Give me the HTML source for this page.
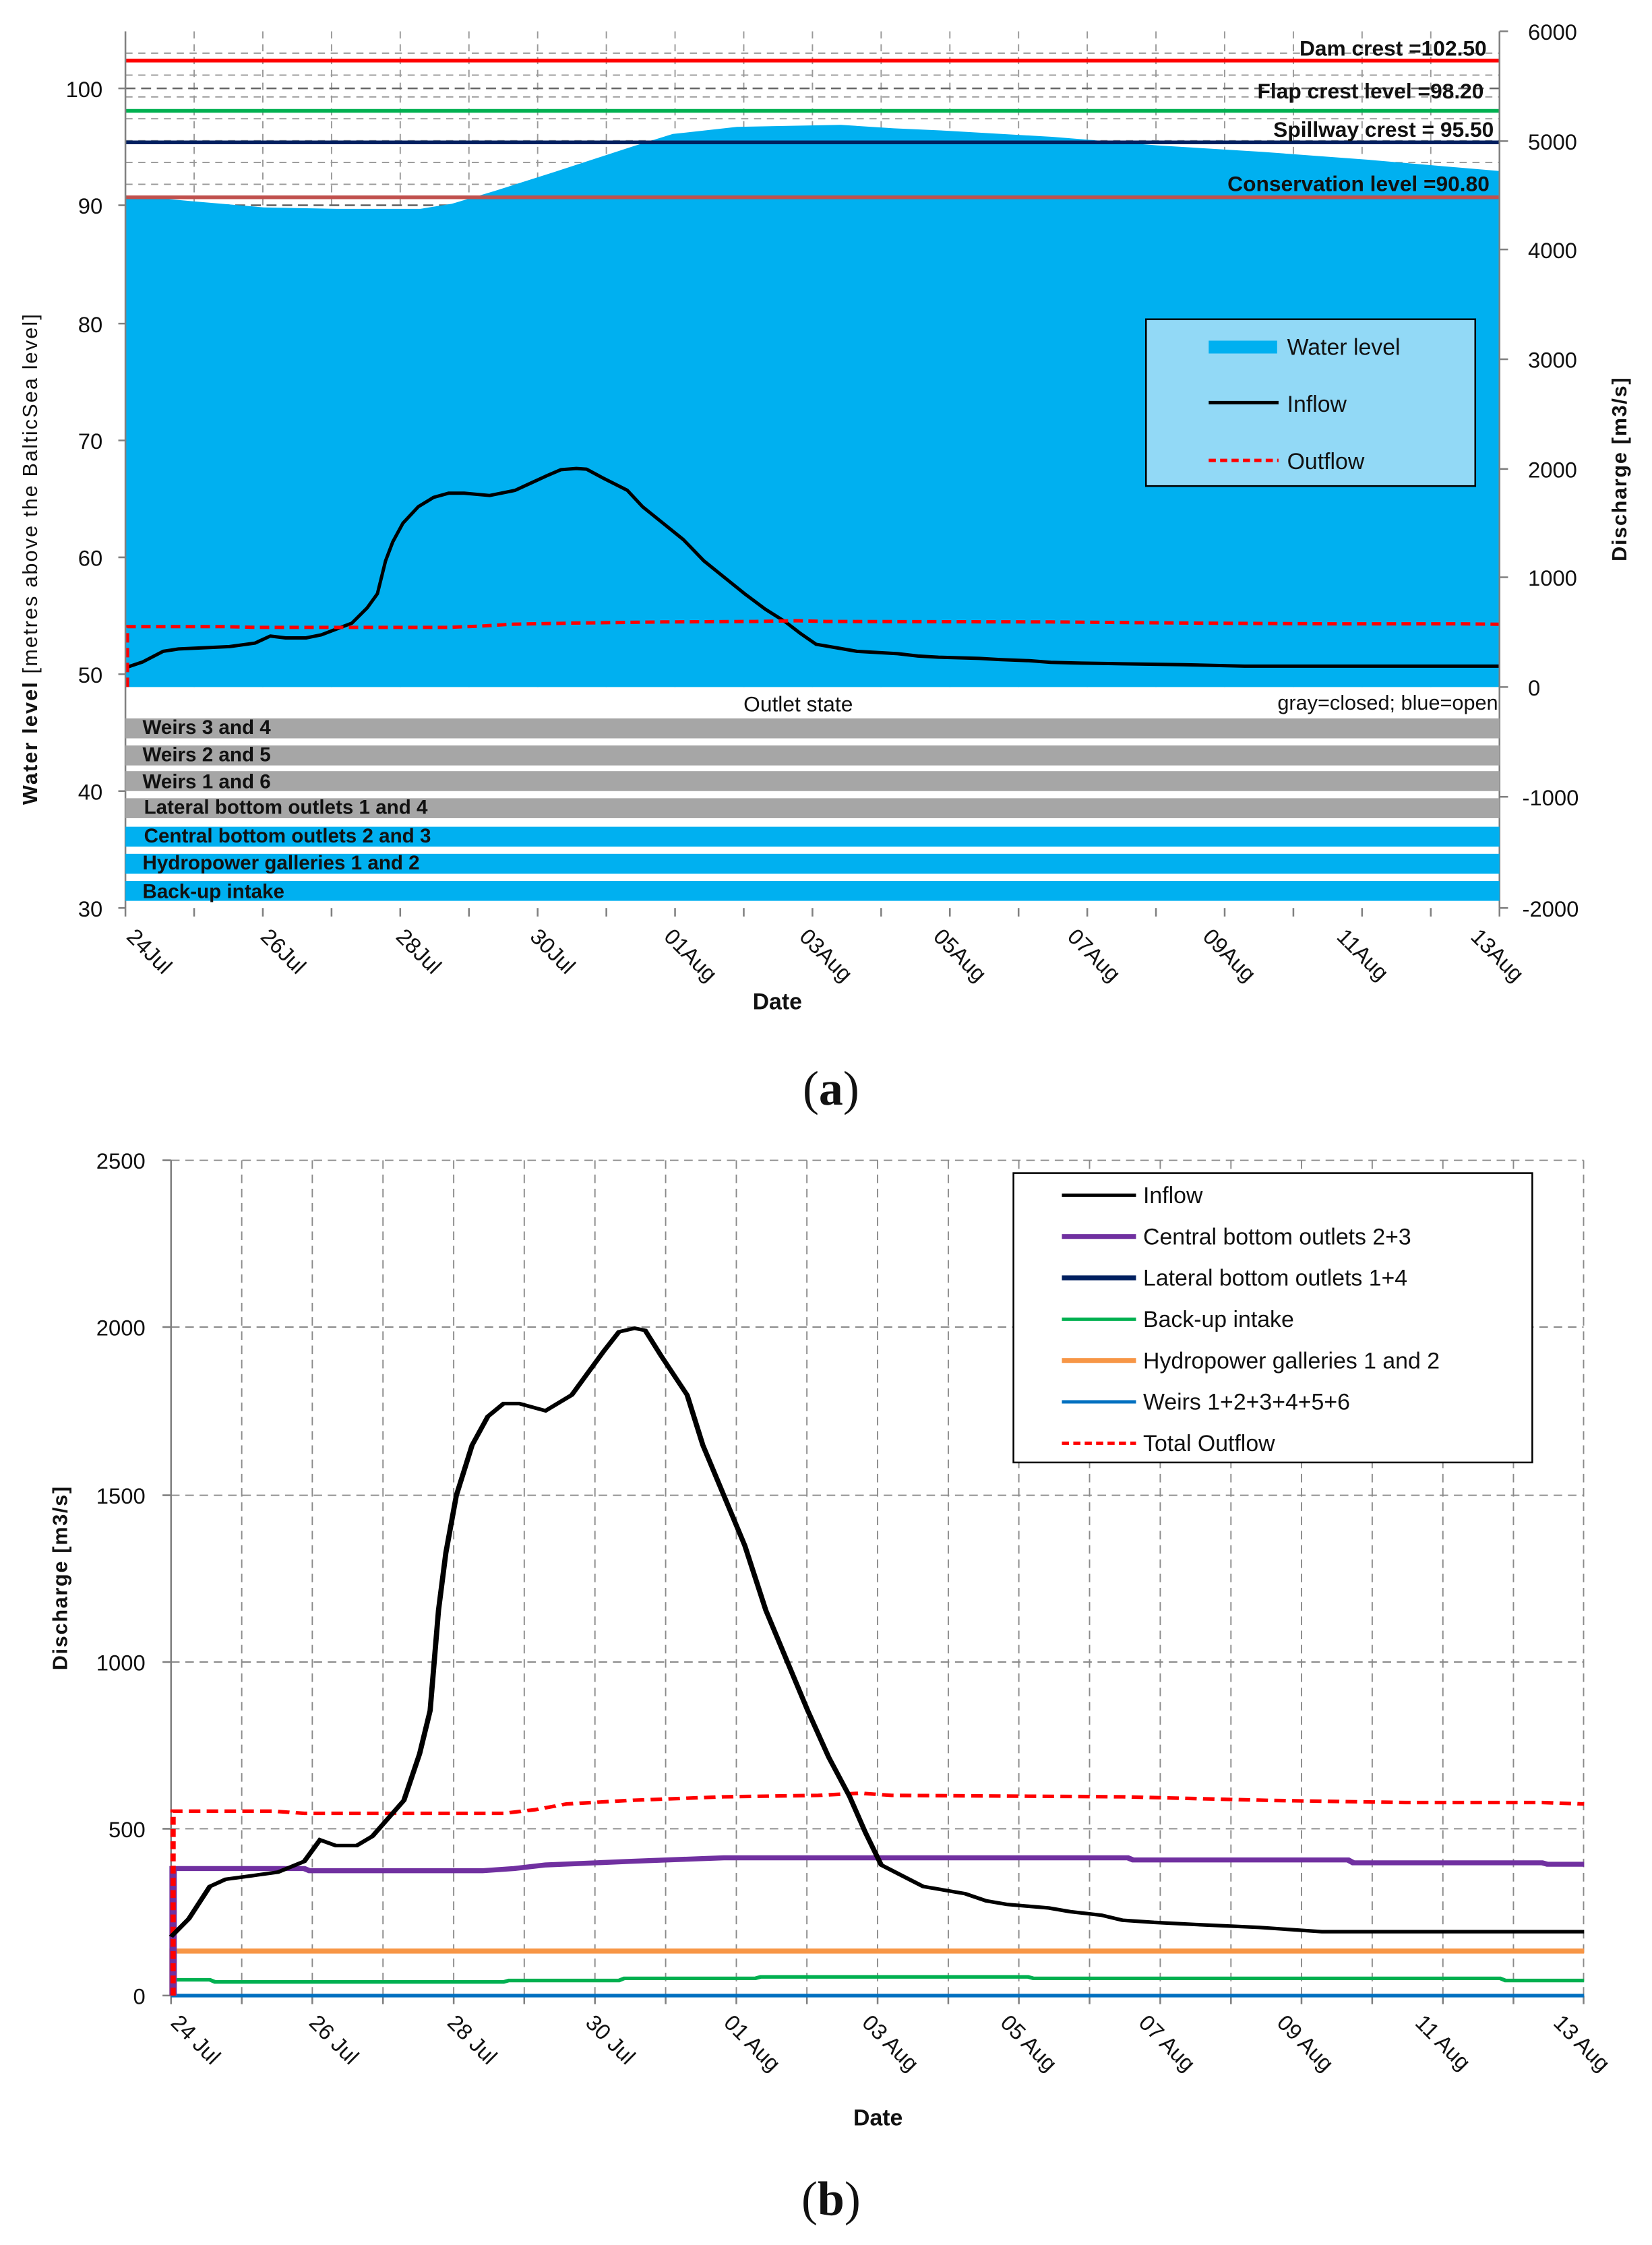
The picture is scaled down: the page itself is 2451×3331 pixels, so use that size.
<!DOCTYPE html>
<html><head><meta charset="utf-8"><style>
html,body{margin:0;padding:0;background:#fff}
svg{display:block}
text{font-family:"Liberation Sans Narrow","Liberation Sans",sans-serif;fill:#111}
.t{font-size:15.5px}
.b{font-weight:bold}
</style></head><body>
<svg width="2451" height="3331" viewBox="0 0 1159 1575" preserveAspectRatio="none" xmlns="http://www.w3.org/2000/svg">
<rect width="1159" height="1575" fill="#fff"/>
<!-- ===== CHART A ===== -->
<g stroke="#999" stroke-width="0.9" stroke-dasharray="5,4" fill="none">
<path d="M88,37.3H1052M88,52.7H1052M88,68H1052M88,83.3H1052M88,98.7H1052M88,114H1052M88,129.3H1052"/>
<path d="M136.2,22V482M184.4,22V482M232.6,22V482M280.8,22V482M329,22V482M377.2,22V482M425.4,22V482M473.6,22V482M521.8,22V482M570,22V482M618.2,22V482M666.4,22V482M714.6,22V482M762.8,22V482M811,22V482M859.2,22V482M907.4,22V482M955.6,22V482M1003.8,22V482"/>
</g>
<path d="M88,62H1052M88,144H1052" stroke="#666" stroke-width="1.2" stroke-dasharray="7,4"/>
<polygon fill="#00b0f0" points="88,482 88,137 133,141 185,145.5 236,146.5 295,146.5 317,143 347,134 391,120 443,103 472,94 517,89 590,87.6 627,90 664,91.7 738,96 812,102 885,106.5 959,112 1052,120 1052,482"/>
<g stroke-width="2.6">
<line x1="88" y1="42.5" x2="1052" y2="42.5" stroke="#ff0000"/>
<line x1="88" y1="77.8" x2="1052" y2="77.8" stroke="#00b050"/>
<line x1="88" y1="99.9" x2="1052" y2="99.9" stroke="#002060"/>
<line x1="88" y1="138.4" x2="1052" y2="138.4" stroke="#c0504d"/>
</g>
<g class="b" font-size="15" text-anchor="end">
<text x="1043" y="39">Dam crest =102.50</text>
<text x="1041" y="69">Flap crest level =98.20</text>
<text x="1048" y="96">Spillway crest = 95.50</text>
<text x="1045" y="134">Conservation level =90.80</text>
</g>
<!-- inflow/outflow a -->
<g transform="matrix(0.7157,0,0,0.16488,-28.66,278.04)" fill="none">
<polyline vector-effect="non-scaling-stroke" stroke="#000" stroke-width="5" stroke-linejoin="round" points="163,1155 180,1130 200,1085 215,1075 240,1070 265,1065 290,1050 305,1020 320,1028 340,1028 355,1015 370,990 385,965 400,900 410,840 418,700 425,620 435,540 450,470 465,430 480,412 495,412 520,422 545,400 560,370 575,340 590,312 605,307 615,310 630,345 655,400 670,470 690,540 710,610 730,700 750,770 770,840 790,905 810,960 825,1010 840,1055 860,1070 880,1085 900,1090 920,1095 940,1105 960,1110 1000,1115 1020,1120 1050,1125 1070,1132 1100,1135 1140,1138 1200,1142 1260,1148 1510,1148"/>
<polyline vector-effect="non-scaling-stroke" stroke="#ff0000" stroke-width="5" stroke-dasharray="14,8" points="165,1237 165,980 260,980 290,983 480,983 510,978 540,970 600,965 690,960 780,958 820,955 850,958 1070,960 1210,965 1340,968 1470,968 1510,970"/>
</g>
<!-- axes a -->
<g stroke="#808080" stroke-width="1.2" fill="none">
<path d="M88,22V637"/>
<path d="M1052,22V482M1052,482V637"/>
<path d="M83,62H88M83,144H88M83,227H88M83,309H88M83,391H88M83,473H88M83,555H88M83,637H88"/>
<path d="M1052,22H1058M1052,99H1058M1052,175H1058M1052,252H1058M1052,329H1058M1052,405H1058M1052,482H1058M1052,559H1058M1052,637H1058"/>
<path d="M88,637V643M136.2,637V643M184.4,637V643M232.6,637V643M280.8,637V643M329,637V643M377.2,637V643M425.4,637V643M473.6,637V643M521.8,637V643M570,637V643M618.2,637V643M666.4,637V643M714.6,637V643M762.8,637V643M811,637V643M859.2,637V643M907.4,637V643M955.6,637V643M1003.8,637V643M1052,637V643"/>
</g>
<g class="t" text-anchor="end">
<text x="72" y="68">100</text><text x="72" y="150">90</text><text x="72" y="233">80</text><text x="72" y="315">70</text><text x="72" y="397">60</text><text x="72" y="479">50</text><text x="72" y="561">40</text><text x="72" y="643">30</text>
</g>
<g class="t">
<text x="1072" y="28">6000</text><text x="1072" y="105">5000</text><text x="1072" y="181">4000</text><text x="1072" y="258">3000</text><text x="1072" y="335">2000</text><text x="1072" y="411">1000</text><text x="1072" y="488">0</text><text x="1068" y="565">-1000</text><text x="1068" y="643">-2000</text>
</g>
<!-- outlet bars -->
<text x="560" y="499" text-anchor="middle" font-size="15">Outlet state</text>
<text x="1051" y="498" text-anchor="end" font-size="14.5">gray=closed; blue=open</text>
<g>
<rect x="88" y="504" width="964" height="14" fill="#a6a6a6"/>
<rect x="88" y="523" width="964" height="14" fill="#a6a6a6"/>
<rect x="88" y="541" width="964" height="14" fill="#a6a6a6"/>
<rect x="88" y="560" width="964" height="14" fill="#a6a6a6"/>
<rect x="88" y="580" width="964" height="14" fill="#00b0f0"/>
<rect x="88" y="599" width="964" height="14" fill="#00b0f0"/>
<rect x="88" y="618" width="964" height="14" fill="#00b0f0"/>
</g>
<g font-size="14" class="b">
<text x="100" y="515">Weirs 3 and 4</text>
<text x="100" y="534">Weirs 2 and 5</text>
<text x="100" y="553">Weirs 1 and 6</text>
<text x="101" y="571">Lateral bottom outlets 1 and 4</text>
<text x="101" y="591">Central bottom outlets 2 and 3</text>
<text x="100" y="610">Hydropower galleries 1 and 2</text>
<text x="100" y="630">Back-up intake</text>
</g>
<!-- legend a -->
<rect x="804" y="224" width="231" height="117" fill="#92d9f6" stroke="#000" stroke-width="1.2"/>
<rect x="848" y="239" width="48" height="9" fill="#00b0f0"/>
<line x1="848" y1="282.5" x2="897" y2="282.5" stroke="#000" stroke-width="2.4"/>
<line x1="848" y1="323" x2="897" y2="323" stroke="#ff0000" stroke-width="2.4" stroke-dasharray="5,3"/>
<g font-size="16"><text x="903" y="249">Water level</text><text x="903" y="289">Inflow</text><text x="903" y="329">Outflow</text></g>
<!-- date labels a -->
<g class="t">
<text transform="translate(88,658) rotate(45)">24Jul</text>
<text transform="translate(182,658) rotate(45)">26Jul</text>
<text transform="translate(277,658) rotate(45)">28Jul</text>
<text transform="translate(371,658) rotate(45)">30Jul</text>
<text transform="translate(465,658) rotate(45)">01Aug</text>
<text transform="translate(560,658) rotate(45)">03Aug</text>
<text transform="translate(654,658) rotate(45)">05Aug</text>
<text transform="translate(748,658) rotate(45)">07Aug</text>
<text transform="translate(843,658) rotate(45)">09Aug</text>
<text transform="translate(937,658) rotate(45)">11Aug</text>
<text transform="translate(1031,658) rotate(45)">13Aug</text>
</g>
<text x="528" y="708" font-size="16" class="b">Date</text>
<text transform="translate(26,392) rotate(-90)" text-anchor="middle" font-size="14.5" letter-spacing="1"><tspan class="b">Water level</tspan> [metres above the BalticSea level]</text>
<text transform="translate(1141,329) rotate(-90)" text-anchor="middle" font-size="14.5" class="b" letter-spacing="0.8">Discharge  [m3/s]</text>
<text x="583" y="775" text-anchor="middle" font-size="34" style="font-family:'Liberation Serif',serif">(<tspan font-weight="bold">a</tspan>)</text>

<!-- ===== CHART B ===== -->
<g stroke="#8a8a8a" stroke-width="0.9" stroke-dasharray="6,4" fill="none">
<path d="M120,814H1111M120,931H1111M120,1049H1111M120,1166H1111M120,1283H1111"/>
<path d="M169.6,814V1400M219.1,814V1400M268.7,814V1400M318.3,814V1400M367.8,814V1400M417.4,814V1400M467,814V1400M516.6,814V1400M566.1,814V1400M615.7,814V1400M665.3,814V1400M714.8,814V1400M764.4,814V1400M814,814V1400M863.6,814V1400M913.1,814V1400M962.7,814V1400M1012.3,814V1400M1061.8,814V1400M1111,814V1400"/>
</g>
<g stroke="#808080" stroke-width="1.2" fill="none">
<path d="M120,814V1400H1111"/>
<path d="M114,814H120M114,931H120M114,1049H120M114,1166H120M114,1283H120M114,1400H120"/>
<path d="M120,1400V1406M169.6,1400V1406M219.1,1400V1406M268.7,1400V1406M318.3,1400V1406M367.8,1400V1406M417.4,1400V1406M467,1400V1406M516.6,1400V1406M566.1,1400V1406M615.7,1400V1406M665.3,1400V1406M714.8,1400V1406M764.4,1400V1406M814,1400V1406M863.6,1400V1406M913.1,1400V1406M962.7,1400V1406M1012.3,1400V1406M1061.8,1400V1406M1111,1400V1406"/>
</g>
<g transform="matrix(0.736,0,0,0.5034,0,777.3)" fill="none">
<polyline stroke="#0070c0" stroke-width="5" points="163,1237 1510,1237"/>
<polyline stroke="#00b050" stroke-width="5" points="165,1237 165,1215 200,1215 205,1218 480,1218 485,1216 590,1216 595,1213 720,1213 725,1211 980,1211 985,1213 1430,1213 1435,1216 1510,1216"/>
<polyline stroke="#f79646" stroke-width="7" points="165,1237 165,1175 1510,1175"/>
<polyline stroke="#7030a0" stroke-width="7" points="165,1237 165,1060 290,1060 295,1063 460,1063 490,1060 520,1055 600,1050 690,1045 1075,1045 1080,1048 1285,1048 1290,1052 1470,1052 1475,1054 1510,1054"/>
<polyline stroke="#ff0000" stroke-width="5" stroke-dasharray="11,6" points="165,1237 165,980 260,980 290,983 480,983 510,978 540,970 600,965 690,960 780,958 820,955 850,958 1070,960 1210,965 1340,968 1470,968 1510,970"/>
<polyline stroke="#000" stroke-width="5" points="163,1155 180,1130 200,1085 215,1075 240,1070 265,1065 290,1050 305,1020 320,1028 340,1028 355,1015 370,990 385,965 400,900 410,840 418,700 425,620 435,540 450,470 465,430 480,412 495,412 520,422 545,400 560,370 575,340 590,312 605,307 615,310 630,345 655,400 670,470 690,540 710,610 730,700 750,770 770,840 790,905 810,960 825,1010 840,1055 860,1070 880,1085 900,1090 920,1095 940,1105 960,1110 1000,1115 1020,1120 1050,1125 1070,1132 1100,1135 1140,1138 1200,1142 1260,1148 1510,1148"/>
</g>
<g class="t" text-anchor="end">
<text x="102" y="820">2500</text><text x="102" y="937">2000</text><text x="102" y="1055">1500</text><text x="102" y="1172">1000</text><text x="102" y="1289">500</text><text x="102" y="1406">0</text>
</g>
<!-- legend b -->
<rect x="711" y="823" width="364" height="203" fill="#fff" stroke="#000" stroke-width="1.2"/>
<g stroke-width="3.4">
<line x1="745" y1="838.5" x2="797" y2="838.5" stroke="#000" stroke-width="2.4"/>
<line x1="745" y1="867.5" x2="797" y2="867.5" stroke="#7030a0"/>
<line x1="745" y1="896.5" x2="797" y2="896.5" stroke="#002060"/>
<line x1="745" y1="925.5" x2="797" y2="925.5" stroke="#00b050" stroke-width="2.4"/>
<line x1="745" y1="954.5" x2="797" y2="954.5" stroke="#f79646"/>
<line x1="745" y1="983.5" x2="797" y2="983.5" stroke="#0070c0" stroke-width="2.4"/>
<line x1="745" y1="1012.5" x2="797" y2="1012.5" stroke="#ff0000" stroke-width="2.4" stroke-dasharray="5,3"/>
</g>
<g font-size="16">
<text x="802" y="844">Inflow</text>
<text x="802" y="873">Central bottom outlets 2+3</text>
<text x="802" y="902">Lateral bottom outlets 1+4</text>
<text x="802" y="931">Back-up intake</text>
<text x="802" y="960">Hydropower galleries 1 and 2</text>
<text x="802" y="989">Weirs 1+2+3+4+5+6</text>
<text x="802" y="1018">Total Outflow</text>
</g>
<g class="t">
<text transform="translate(119,1420) rotate(45)">24 Jul</text>
<text transform="translate(216,1420) rotate(45)">26 Jul</text>
<text transform="translate(313,1420) rotate(45)">28 Jul</text>
<text transform="translate(410,1420) rotate(45)">30 Jul</text>
<text transform="translate(507,1420) rotate(45)">01 Aug</text>
<text transform="translate(604,1420) rotate(45)">03 Aug</text>
<text transform="translate(701,1420) rotate(45)">05 Aug</text>
<text transform="translate(798,1420) rotate(45)">07 Aug</text>
<text transform="translate(895,1420) rotate(45)">09 Aug</text>
<text transform="translate(992,1420) rotate(45)">11 Aug</text>
<text transform="translate(1089,1420) rotate(45)">13 Aug</text>
</g>
<text x="616" y="1491" text-anchor="middle" font-size="16" class="b">Date</text>
<text transform="translate(47,1107) rotate(-90)" text-anchor="middle" font-size="14.5" class="b" letter-spacing="0.8">Discharge  [m3/s]</text>
<text x="583" y="1554" text-anchor="middle" font-size="34" style="font-family:'Liberation Serif',serif">(<tspan font-weight="bold">b</tspan>)</text>
</svg>
</body></html>
